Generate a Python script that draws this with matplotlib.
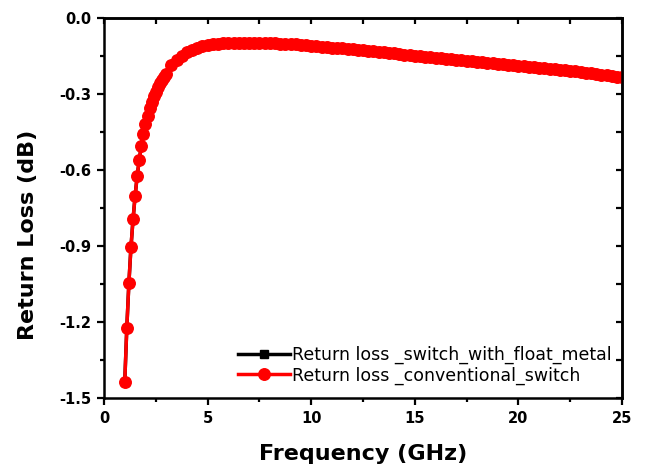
import matplotlib
matplotlib.use("Agg")
import matplotlib.pyplot as plt
from matplotlib.ticker import MultipleLocator, FuncFormatter

# Frequency sweep points (GHz)
freq = [1.0, 1.1, 1.2, 1.3, 1.4, 1.5, 1.6, 1.7, 1.8, 1.9,
        2.0, 2.1, 2.2, 2.3, 2.4, 2.5, 2.6, 2.7, 2.8, 2.9,
        3.0, 3.25, 3.5, 3.75, 4.0, 4.25, 4.5, 4.75, 5.0, 5.25,
        5.5, 5.75, 6.0, 6.25, 6.5, 6.75, 7.0, 7.25, 7.5, 7.75,
        8.0, 8.25, 8.5, 8.75, 9.0, 9.25, 9.5, 9.75, 10.0, 10.25,
        10.5, 10.75, 11.0, 11.25, 11.5, 11.75, 12.0, 12.25, 12.5, 12.75,
        13.0, 13.25, 13.5, 13.75, 14.0, 14.25, 14.5, 14.75, 15.0, 15.25,
        15.5, 15.75, 16.0, 16.25, 16.5, 16.75, 17.0, 17.25, 17.5, 17.75,
        18.0, 18.25, 18.5, 18.75, 19.0, 19.25, 19.5, 19.75, 20.0, 20.25,
        20.5, 20.75, 21.0, 21.25, 21.5, 21.75, 22.0, 22.25, 22.5, 22.75,
        23.0, 23.25, 23.5, 23.75, 24.0, 24.25, 24.5, 24.75, 25.0]

# Return loss of the conventional switch (dB)
rl_conventional = [
    -1.438, -1.223, -1.047, -0.905, -0.795, -0.703, -0.624, -0.561, -0.505, -0.458,
    -0.418, -0.385, -0.356, -0.331, -0.309, -0.290, -0.273, -0.258, -0.244, -0.231,
    -0.219, -0.186, -0.165, -0.148, -0.135, -0.125, -0.118, -0.112, -0.107, -0.104,
    -0.101, -0.099, -0.098, -0.097, -0.097, -0.097, -0.097, -0.097, -0.098, -0.098,
    -0.099, -0.100, -0.101, -0.102, -0.103, -0.104, -0.106, -0.107, -0.109, -0.111,
    -0.113, -0.115, -0.117, -0.118, -0.120, -0.122, -0.124, -0.126, -0.128, -0.130,
    -0.132, -0.134, -0.136, -0.138, -0.140, -0.142, -0.144, -0.146, -0.148, -0.150,
    -0.152, -0.154, -0.156, -0.158, -0.160, -0.162, -0.164, -0.166, -0.168, -0.170,
    -0.172, -0.174, -0.176, -0.178, -0.180, -0.182, -0.184, -0.186, -0.188, -0.190,
    -0.192, -0.194, -0.196, -0.198, -0.201, -0.203, -0.205, -0.207, -0.209, -0.211,
    -0.214, -0.216, -0.218, -0.221, -0.223, -0.226, -0.228, -0.231, -0.233]

# Return loss of the switch with float metal (dB) - overlaps the conventional one
rl_float_metal = list(rl_conventional)

labels = ["Return loss _switch_with_float_metal",
          "Return loss _conventional_switch"]

fig = plt.figure(figsize=(6.46, 4.74), dpi=100)
ax = fig.add_axes([0.161, 0.160, 0.802, 0.802])

ax.plot(freq, rl_float_metal, color="black", lw=2.5, marker="s", ms=5.9,
        mec="black", mfc="black", label=labels[0])
ax.plot(freq, rl_conventional, color="red", lw=2.5, marker="o", ms=8.3,
        mec="red", mfc="red", label=labels[1])

ax.set_xlim(0, 25)
ax.set_ylim(-1.5, 0.0)
ax.xaxis.set_major_locator(MultipleLocator(5))
ax.xaxis.set_minor_locator(MultipleLocator(2.5))
ax.yaxis.set_major_locator(MultipleLocator(0.3))
ax.yaxis.set_minor_locator(MultipleLocator(0.15))
ax.yaxis.set_major_formatter(FuncFormatter(lambda v, p: f"{v:.1f}" if abs(v) > 1e-9 else "0.0"))

for s in ax.spines.values():
    s.set_linewidth(1.8)

ax.tick_params(which="major", direction="out", length=5, width=1.6,
               labelsize=10.5, pad=4)
ax.tick_params(which="minor", direction="out", length=3, width=1.6)
for lbl in ax.get_xticklabels() + ax.get_yticklabels():
    lbl.set_fontweight("bold")

# inward ticks on the top and right edges
ax_top = ax.secondary_xaxis("top")
ax_top.xaxis.set_major_locator(MultipleLocator(5))
ax_top.xaxis.set_minor_locator(MultipleLocator(2.5))
ax_top.tick_params(which="both", direction="in", length=4, width=1.6,
                   labeltop=False)
ax_top.spines["top"].set_linewidth(1.8)
ax_right = ax.secondary_yaxis("right")
ax_right.yaxis.set_major_locator(MultipleLocator(0.3))
ax_right.yaxis.set_minor_locator(MultipleLocator(0.15))
ax_right.tick_params(which="both", direction="in", length=4, width=1.6,
                     labelright=False)
ax_right.spines["right"].set_linewidth(1.8)

ax.set_xlabel("Frequency (GHz)", fontsize=16, fontweight="bold", labelpad=13)
ax.set_ylabel("Return Loss (dB)", fontsize=16, fontweight="bold")
ax.yaxis.set_label_coords(-0.128, 0.43)

ax.legend(loc="lower right", bbox_to_anchor=(1.0, 0.008), frameon=False,
          fontsize=12.5, handlelength=3.0, handletextpad=0.1,
          labelspacing=0.12, borderaxespad=0.2)

fig.savefig("out.png", dpi=100)
